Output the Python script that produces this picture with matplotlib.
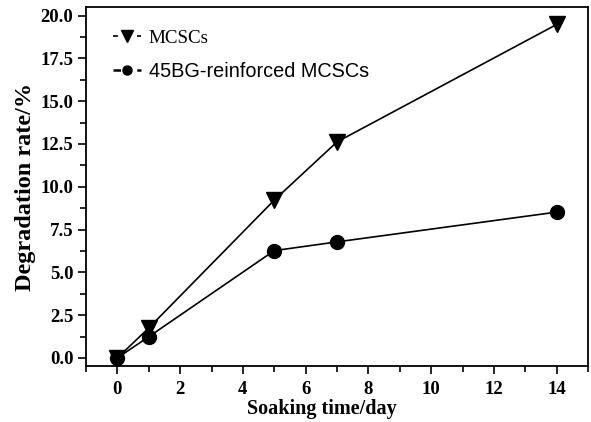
import numpy as np
import matplotlib
matplotlib.use("Agg")
import matplotlib.pyplot as plt
from matplotlib.lines import Line2D
from matplotlib.ticker import MultipleLocator

## Donnees
jours = [0, 1, 5, 7, 14]
mcsc = [0.0, 1.75, 9.22, 12.62, 19.48]          # MCSCs
bg45 = [0.0, 1.24, 6.27, 6.78, 8.52]            # 45BG-reinforced MCSCs
labels = ["MCSCs", "45BG-reinforced MCSCs"]

serif = "Liberation Serif"
sans = "Liberation Sans"

fig = plt.figure(figsize=(5.91, 4.22), dpi=100)
ax = fig.add_axes([0.1455, 0.1327, 0.8495, 0.8507])

ax.plot(jours, mcsc, "k-", lw=1.2, marker="v", ms=12, zorder=3)
ax.plot(jours, bg45, "k-", lw=1.2, marker="o", ms=10, zorder=3)

ax.set_xlim(-1, 15)
ax.set_ylim(-0.47, 20.5)
ax.xaxis.set_minor_locator(MultipleLocator(1))
ax.yaxis.set_minor_locator(MultipleLocator(1.25))
ax.set_xticks(np.arange(0, 15, 2))
ax.set_yticks(np.arange(0, 20.1, 2.5))
ax.set_yticklabels(["%.1f" % v for v in np.arange(0, 20.1, 2.5)])

ax.tick_params(which="both", direction="out", top=False, right=False, width=1.2)
ax.tick_params(which="major", length=5.5)
ax.tick_params(which="minor", length=4)
ax.tick_params(axis="x", which="major", pad=5.5)
for lab in ax.get_xticklabels() + ax.get_yticklabels():
    lab.set_fontfamily(serif)
    lab.set_fontweight("bold")
    lab.set_fontsize(13.5)
for s in ax.spines.values():
    s.set_linewidth(1.3)

ax.set_xlabel("Soaking time/day", fontfamily=serif, fontweight="bold", fontsize=14.5)
ax.xaxis.set_label_coords(0.47, -0.093)
ax.set_ylabel("Degradation rate/%", fontfamily=serif, fontweight="bold", fontsize=17.5, labelpad=3)

# legende : petit tiret, marqueur, petit tiret
h1 = Line2D([], [], color="k", lw=1.2, ls=(0, (3.0, 11.4)), marker="v", ms=8, solid_capstyle="butt")
h2 = Line2D([], [], color="k", lw=1.8, ls=(0, (3.0, 6.5)), marker="o", ms=6.5)
leg = ax.legend([h1, h2], labels, loc="upper left", frameon=False,
                handlelength=1.5, handletextpad=0.4, labelspacing=0.78,
                bbox_to_anchor=(0.019, 0.985), fontsize=13.7)
leg.get_texts()[0].set_fontfamily(serif)
leg.get_texts()[1].set_fontfamily(sans)
leg.get_texts()[1].set_fontsize(14.3)

fig.savefig("out.png", dpi=100)
